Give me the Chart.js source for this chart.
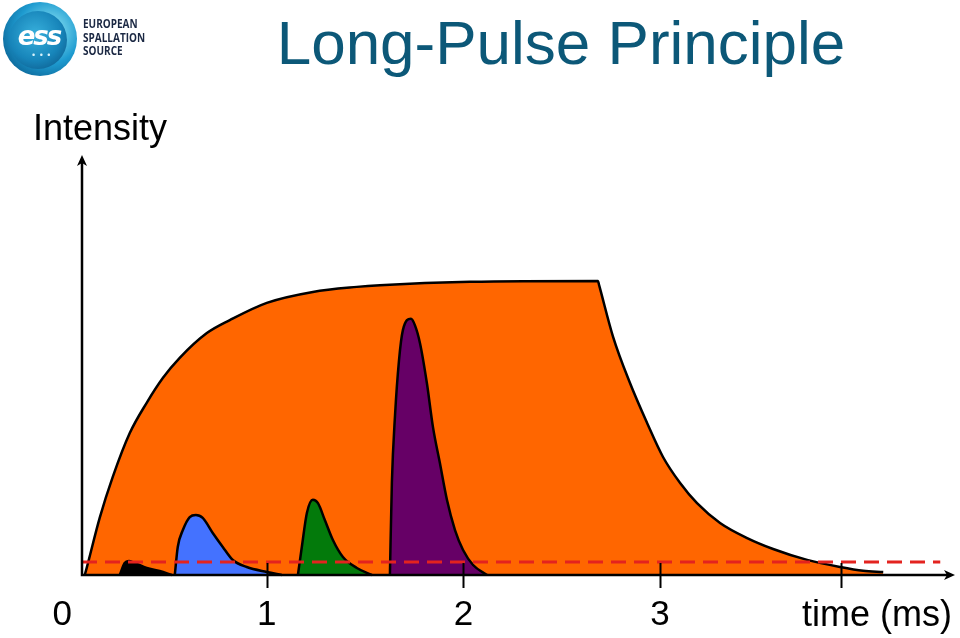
<!DOCTYPE html>
<html>
<head>
	<meta charset="utf-8">
	<title>Long-Pulse Principle</title>
	<script src="https://cdn.jsdelivr.net/npm/chart.js@4.4.1/dist/chart.umd.min.js"></script>
	<style>
		html, body {
			margin: 0;
			padding: 0;
			background: #fff;
		}
		.stage {
			position: relative;
			width: 960px;
			height: 638px;
			overflow: hidden;
			font-family: "Liberation Sans", Arial, sans-serif;
		}
		canvas {
			position: absolute;
			left: 0;
			top: 0;
		}
		.title {
			position: absolute;
			left: 261px;
			width: 600px;
			top: 12px;
			font-size: 62px;
			line-height: 62px;
			text-align: center;
			color: #0c5878;
			white-space: nowrap;
		}
		.ylabel {
			position: absolute;
			left: 33px;
			top: 110px;
			font-size: 36px;
			line-height: 36px;
			color: #000;
		}
		.xlabel {
			position: absolute;
			right: 8px;
			top: 596px;
			font-size: 36px;
			line-height: 36px;
			color: #000;
		}
		.logo {
			position: absolute;
			left: 3px;
			top: 2px;
			width: 74px;
			height: 74px;
			border-radius: 50%;
			background: radial-gradient(circle at 62% 40%, #c8eef8 0%, #62c8e6 24%, #1e9bd0 50%, #0d6a9c 78%, #0a4c78 100%);
		}
		.logo .inner {
			position: absolute;
			left: 6px;
			top: 9px;
			width: 58px;
			height: 58px;
			border-radius: 50%;
			background: radial-gradient(circle at 45% 40%, #38b0dc 0%, #1785ba 55%, #0a4f7e 100%);
		}
		.logo .ess {
			position: absolute;
			left: 0;
			width: 72px;
			top: 19px;
			text-align: center;
			font-family: "DejaVu Sans", sans-serif;
			font-weight: bold;
			font-style: italic;
			font-size: 26px;
			letter-spacing: -2px;
			color: #fff;
		}
		.logo .dots {
			position: absolute;
			left: 29px;
			top: 48px;
			font-size: 9px;
			color: #d8f2fb;
			letter-spacing: 1px;
		}
		.org {
			position: absolute;
			left: 83px;
			top: 17px;
			font-family: "Open Sans", "DejaVu Sans", sans-serif;
			font-weight: 700;
			font-size: 12.5px;
			line-height: 13.5px;
			color: #1b2843;
			transform: scaleX(0.8);
			transform-origin: left top;
		}
	</style>
</head>
<body>
<div class="stage">
	<canvas id="chart" width="960" height="638"></canvas>
	<div class="logo">
		<div class="inner"></div>
		<div class="ess">ess</div>
		<div class="dots">• • •</div>
	</div>
	<div class="org">EUROPEAN<br>SPALLATION<br>SOURCE</div>
	<div class="title">Long-Pulse Principle</div>
	<div class="ylabel">Intensity</div>
	<div class="xlabel">time (ms)</div>
</div>
<script>
	// time in ms, intensity in arbitrary units (0..100)
	const longPulse = [
		[0.074, 0], [0.084, 1.7], [0.150, 13.6], [0.216, 23.3], [0.303, 33.8],
		[0.389, 41.0], [0.471, 46.9], [0.557, 51.7], [0.695, 57.6], [0.812, 60.7],
		[1.000, 64.8], [1.234, 67.4], [1.458, 68.6], [1.575, 69.0], [2.033, 69.8],
		[2.684, 70.0], [2.690, 69.0], [2.761, 56.7], [2.847, 45.7], [2.934, 36.2],
		[3.015, 28.1], [3.102, 21.9], [3.188, 17.1], [3.305, 12.4], [3.443, 8.8],
		[3.575, 6.2], [3.748, 3.6], [3.916, 1.9], [4.033, 1.0], [4.135, 0.7]
	];
	const pulseBlack = [
		[0.252, 0], [0.277, 2.86], [0.298, 3.33], [0.328, 2.86], [0.389, 1.67],
		[0.455, 0.95], [0.517, 0]
	];
	const pulseBlue = [
		[0.532, 0], [0.547, 6.67], [0.573, 10.7], [0.608, 13.8], [0.639, 14.3],
		[0.674, 13.6], [0.725, 10.0], [0.776, 6.67], [0.827, 3.57], [0.898, 1.9],
		[1.000, 0.71], [1.076, 0]
	];
	const pulseGreen = [
		[1.158, 0], [1.178, 6.67], [1.204, 14.8], [1.234, 17.9], [1.260, 17.1],
		[1.295, 13.1], [1.336, 8.33], [1.387, 4.29], [1.458, 1.67], [1.534, 0]
	];
	const pulsePurple = [
		[1.626, 0], [1.636, 22.0], [1.652, 38.0], [1.672, 51.0], [1.692, 58.3],
		[1.733, 61.0], [1.753, 59.5], [1.779, 55.2], [1.814, 45.7], [1.845, 35.2],
		[1.880, 26.7], [1.916, 17.9], [1.957, 10.7], [1.998, 5.95], [2.049, 2.38],
		[2.120, 0]
	];
	const threshold = [[0.06, 3.1], [4.425, 3.1]];

	const tickMarks = [1, 2, 3, 3.92];
	const tickLabelValues = [0, 1, 2, 3];
	const tickLabels = ['0', '1', '2', '3'];

	const pts = arr => arr.map(p => ({ x: p[0], y: p[1] }));

	const pulse = (data, color, order) => ({
		data: pts(data),
		backgroundColor: color,
		borderColor: '#000',
		borderWidth: 2.5,
		fill: 'origin',
		pointRadius: 0,
		cubicInterpolationMode: 'monotone',
		clip: false,
		order: order
	});

	const axesPlugin = {
		id: 'arrowAxes',
		afterDatasetsDraw(chart) {
			const ctx = chart.ctx;
			const xs = chart.scales.x;
			const ys = chart.scales.y;
			const x0 = xs.left, y0 = ys.bottom;
			ctx.save();
			ctx.strokeStyle = '#000';
			ctx.fillStyle = '#000';
			ctx.lineWidth = 2.5;
			// axes
			ctx.beginPath();
			ctx.moveTo(x0, ys.top + 4);
			ctx.lineTo(x0, y0);
			ctx.lineTo(xs.right - 4, y0);
			ctx.stroke();
			// arrow heads
			ctx.beginPath();
			ctx.moveTo(x0, ys.top);
			ctx.lineTo(x0 - 5, ys.top + 11);
			ctx.lineTo(x0, ys.top + 8);
			ctx.lineTo(x0 + 5, ys.top + 11);
			ctx.closePath();
			ctx.fill();
			ctx.beginPath();
			ctx.moveTo(xs.right, y0);
			ctx.lineTo(xs.right - 11, y0 - 5);
			ctx.lineTo(xs.right - 8, y0);
			ctx.lineTo(xs.right - 11, y0 + 5);
			ctx.closePath();
			ctx.fill();
			// tick marks
			ctx.lineWidth = 2;
			tickMarks.forEach(v => {
				const px = Math.round(xs.getPixelForValue(v)) + 0.5;
				ctx.beginPath();
				ctx.moveTo(px, y0 - 12);
				ctx.lineTo(px, y0 + 13);
				ctx.stroke();
			});
			// tick labels
			ctx.font = '35px "Liberation Sans", Arial, sans-serif';
			ctx.textBaseline = 'alphabetic';
			tickLabelValues.forEach((v, i) => {
				if (v === 0) {
					ctx.textAlign = 'right';
					ctx.fillText(tickLabels[i], x0 - 10, y0 + 50);
				} else {
					ctx.textAlign = 'center';
					ctx.fillText(tickLabels[i], xs.getPixelForValue(v), y0 + 50);
				}
			});
			ctx.restore();
		}
	};

	new Chart(document.getElementById('chart'), {
		type: 'line',
		data: {
			datasets: [
				{
					data: pts(threshold),
					borderColor: '#e3231f',
					borderWidth: 3,
					borderDash: [15, 8],
					fill: false,
					pointRadius: 0,
					order: 0
				},
				pulse(pulseBlack, '#000000', 1),
				pulse(pulseBlue, '#4472ff', 1),
				pulse(pulseGreen, '#037a0b', 1),
				pulse(pulsePurple, '#660066', 1),
				pulse(longPulse, '#ff6600', 5)
			]
		},
		options: {
			responsive: false,
			animation: false,
			events: [],
			layout: {
				padding: { left: 82, right: 5, top: 155, bottom: 63 }
			},
			plugins: {
				legend: { display: false },
				tooltip: { enabled: false }
			},
			scales: {
				x: { type: 'linear', min: 0.06, max: 4.5, display: false },
				y: { min: 0, max: 100, display: false }
			}
		},
		plugins: [axesPlugin]
	});
</script>
</body>
</html>
